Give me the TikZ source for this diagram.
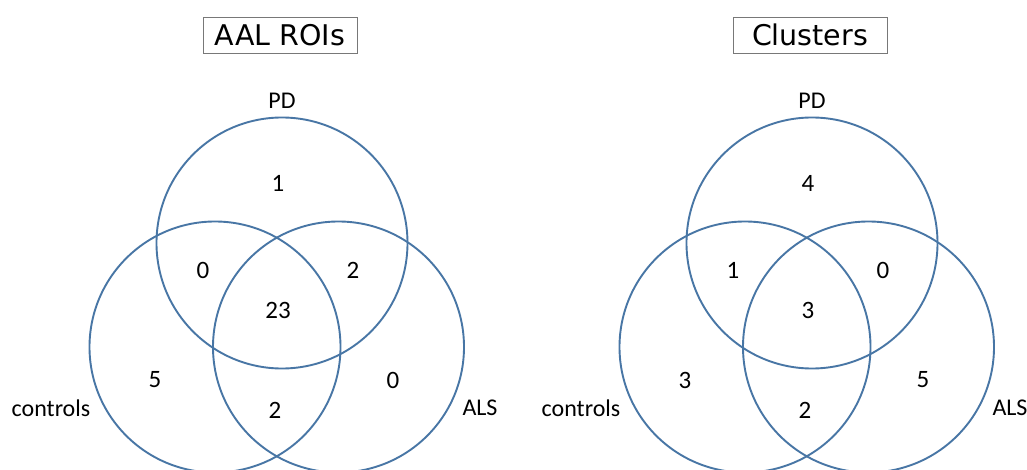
\documentclass[tikz,border=0pt]{standalone}
\usepackage{fontspec}
\setmainfont{Carlito}
\newfontfamily\titlefont{DejaVu Sans}
\definecolor{vennblue}{RGB}{72,118,165}
\definecolor{boxgray}{RGB}{120,120,120}
\begin{document}
\begin{tikzpicture}[x=1pt,y=-1pt,
  venn/.style={circle,draw=vennblue,line width=1.9pt,minimum size=251pt,inner sep=0pt},
  titlebox/.style={draw=boxgray,line width=0.8pt,minimum width=154pt,minimum height=36pt,inner sep=0pt,font=\titlefont\fontsize{28.5}{31}\selectfont},
  lab/.style={font=\fontsize{24}{28}\selectfont,inner sep=0pt},
  num/.style={font=\fontsize{25}{29}\selectfont,inner sep=0pt}]
\useasboundingbox (0,0) rectangle (1027,470);
\fill[white] (0,0) rectangle (1027,470);
% left diagram
\node[titlebox] (tL) at (280,35) {AAL ROIs};
\node[venn] (pdL) at (282,243) {};
\node[venn] (coL) at (215,347) {};
\node[venn] (alL) at (338.5,347) {};
\node[lab] (pdLl) at (282,101) {PD};
\node[lab] (coLl) at (51,408) {controls};
\node[lab] (alLl) at (480,408) {ALS};
\node[num] (l1) at (278,183) {1};
\node[num] (l2) at (203,270) {0};
\node[num] (l3) at (353,270) {2};
\node[num] (l4) at (278,310) {23};
\node[num] (l5) at (155,380) {5};
\node[num] (l6) at (393,380) {0};
\node[num] (l7) at (275,410) {2};
% right diagram
\node[titlebox] (tR) at (810,35) {Clusters};
\node[venn] (pdR) at (812,243) {};
\node[venn] (coR) at (745,347) {};
\node[venn] (alR) at (868.5,347) {};
\node[lab] (pdRl) at (812,101) {PD};
\node[lab] (coRl) at (581,408) {controls};
\node[lab] (alRl) at (1010,408) {ALS};
\node[num] (r1) at (808,183) {4};
\node[num] (r2) at (733,270) {1};
\node[num] (r3) at (883,270) {0};
\node[num] (r4) at (808,310) {3};
\node[num] (r5) at (685,380) {3};
\node[num] (r6) at (923,380) {5};
\node[num] (r7) at (805,410) {2};
\end{tikzpicture}
\end{document}
